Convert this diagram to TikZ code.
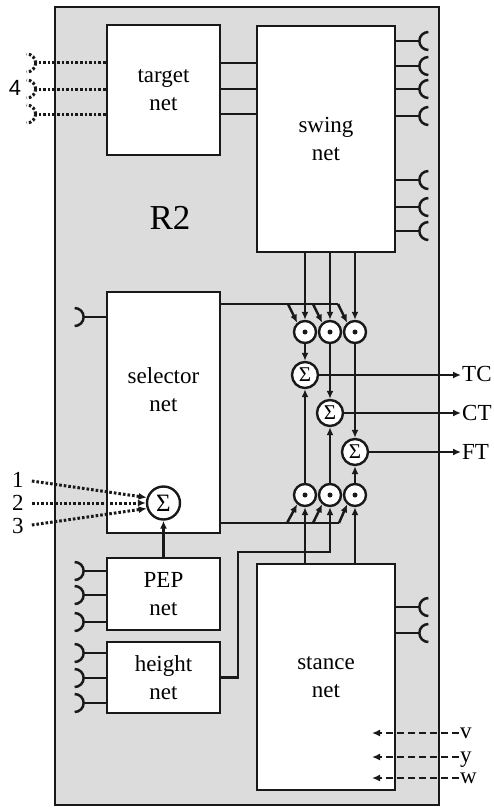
\documentclass[tikz,border=0pt]{standalone}
\usepackage{fontspec}
\setmainfont{Liberation Serif}
\newfontfamily\sansfnt{Liberation Sans}
\usepackage{tikz}
\usetikzlibrary{arrows.meta, positioning, calc}
\definecolor{RTwoGray}{RGB}{220,220,220}
\definecolor{RTwoInk}{RGB}{25,25,25}

\tikzset{
  netbox/.style={draw=RTwoInk, line width=2.7pt, fill=white, align=center, inner sep=0pt,
    font=\fontsize{23}{28}\selectfont},
  prod/.style={circle, draw=RTwoInk, line width=2.4pt, fill=white, minimum size=22pt, inner sep=0pt},
  sum/.style={circle, draw=RTwoInk, line width=2.4pt, fill=white, minimum size=26pt, inner sep=0pt,
    font=\fontsize{21}{21}\selectfont},
  wire/.style={draw=RTwoInk, line width=2.5pt},
  dotwire/.style={draw=RTwoInk, line width=3pt, dash pattern=on 2.6pt off 2pt},
  dashwire/.style={draw=RTwoInk, line width=2.5pt, dash pattern=on 7pt off 4pt},
  lbl/.style={font=\fontsize{23}{28}\selectfont, inner sep=1pt, text height=15pt, text depth=0pt},
  lowlbl/.style={lbl, text height=10.4pt},
  sockR/.pic={\draw (0,0) arc[start angle=180,end angle=90,radius=9]
                    (0,0) arc[start angle=180,end angle=270,radius=9];},
  sockL/.pic={\draw (0,0) arc[start angle=0,end angle=90,radius=9]
                    (0,0) arc[start angle=0,end angle=-90,radius=9];},
}

\begin{document}
\begin{tikzpicture}[x=1pt,y=-1pt,>={Latex[length=8pt,width=7pt]}]
  \path[use as bounding box] (0,0) rectangle (493,808);
  % R2 module
  \node[draw=RTwoInk, line width=2.7pt, fill=RTwoGray, minimum width=384pt, minimum height=798pt,
    inner sep=0pt] (rtwo) at (247,406) {};
  \node[font=\fontsize{35}{40}\selectfont] (rtwoLbl) at (170,218) {R2};

  % nets
  \node[netbox, minimum width=113pt, minimum height=130pt] (target) at (163.5,90) {target\\net};
  \node[netbox, minimum width=138pt, minimum height=226pt] (swing) at (326,139) {swing\\net};
  \node[netbox, minimum width=113pt, minimum height=241pt] (sel) at (163.5,412.5) {};
  \node[lbl, text height=, align=center] (selLbl) at (163.5,390) {selector\\net};
  \node[netbox, minimum width=113pt, minimum height=72pt] (pep) at (163.5,594) {PEP\\net};
  \node[netbox, minimum width=113pt, minimum height=71pt] (height) at (163.5,677.5) {height\\net};
  \node[netbox, minimum width=138pt, minimum height=226pt] (stance) at (326,677) {stance\\net};

  % target net inputs
  \node[font=\sansfnt\fontsize{22}{22}\selectfont] (four) at (15,88) {4};
  \foreach \y in {63,89,114}
    \draw[dotwire] (target.west |- 0,\y) -- ++(-70,0) pic[dotwire]{sockL};
  \foreach \y in {63,89,114}
    \draw[wire] (target.east |- 0,\y) -- (swing.west |- 0,\y);

  % sockets
  \foreach \y in {41,66,89,116,180,207,231}
    \draw[wire] (swing.east |- 0,\y) -- ++(23,0) pic[wire]{sockR};
  \foreach \y in {607,633}
    \draw[wire] (stance.east |- 0,\y) -- ++(23,0) pic[wire]{sockR};
  \draw[wire] (sel.west |- 0,317) -- ++(-22,0) pic[wire]{sockL};
  \foreach \y in {571,595,622}
    \draw[wire] (pep.west |- 0,\y) -- ++(-22,0) pic[wire]{sockL};
  \foreach \y in {653,678,703}
    \draw[wire] (height.west |- 0,\y) -- ++(-22,0) pic[wire]{sockL};

  % selector sum
  \node[sum, minimum size=33pt, font=\fontsize{25}{25}\selectfont] (sumIn) at (163.5,503) {Σ};
  \node[lbl] (in1) at (18,480) {1};
  \node[lbl] (in2) at (18,503) {2};
  \node[lbl] (in3) at (18,526) {3};
  \draw[dotwire,->,shorten <=7pt] (in1.east) -- (sumIn.162);
  \draw[dotwire,->,shorten <=7pt] (in2.east) -- (sumIn.west);
  \draw[dotwire,->,shorten <=7pt] (in3.east) -- (sumIn.198);
  \draw[wire,->] (pep.north) -- (sumIn.south);

  % gating and summing
  \foreach \i/\x in {1/305,2/330,3/355}{
    \node[prod] (pT\i) at (\x,332) {};
    \node[prod] (pB\i) at (\x,495) {};
    \fill[RTwoInk] (pT\i) circle[radius=2.5pt] (pB\i) circle[radius=2.5pt];
  }
  \node[sum] (s1) at (305,375) {Σ};
  \node[sum] (s2) at (330,413) {Σ};
  \node[sum] (s3) at (355,452) {Σ};

  \foreach \i in {1,2,3}{
    \draw[wire,->] (pT\i |- swing.south) -- (pT\i);
    \draw[wire,->] (pT\i) -- (s\i);
    \draw[wire,->] (pB\i) -- (s\i);
  }
  \draw[wire,->] (pB1 |- stance.north) -- (pB1);
  \draw[wire,->] (pB3 |- stance.north) -- (pB3);
  \coordinate (hTurn) at (238,552);
  \draw[wire,->] (height.east) -| (hTurn) -| (pB2);

  \coordinate (tapT1) at (288,304);
  \coordinate (tapT2) at (313,304);
  \coordinate (tapT3) at (338,304);
  \coordinate (tapB1) at (287,523);
  \coordinate (tapB2) at (313,523);
  \coordinate (tapB3) at (339,523);
  \draw[wire] (sel.east |- tapT1) -- (tapT3);
  \draw[wire] (sel.east |- tapB1) -- (tapB3);
  \foreach \i in {1,2,3}{
    \draw[wire,->] (tapT\i) -- (pT\i.130);
    \draw[wire,->] (tapB\i) -- (pB\i.230);
  }

  % outputs
  \node[lbl, anchor=west] (tc) at (461,374) {TC};
  \node[lbl, anchor=west] (ct) at (461,413) {CT};
  \node[lbl, anchor=west] (ft) at (461,452) {FT};
  \draw[wire,->] (s1.east) -- (s1.east -| tc.west);
  \draw[wire,->] (s2.east) -- (s2.east -| ct.west);
  \draw[wire,->] (s3.east) -- (s3.east -| ft.west);

  % stance inputs
  \node[lowlbl, anchor=west] (v) at (459,733) {v};
  \node[lowlbl, anchor=west] (y) at (459,757) {y};
  \node[lowlbl, anchor=west] (w) at (459,778) {w};
  \coordinate (vIn) at (372,733);
  \coordinate (yIn) at (372,757);
  \coordinate (wIn) at (372,778);
  \draw[dashwire,->] (v.west) -- (vIn);
  \draw[dashwire,->] (y.west) -- (yIn);
  \draw[dashwire,->] (w.west) -- (wIn);
\end{tikzpicture}
\end{document}
